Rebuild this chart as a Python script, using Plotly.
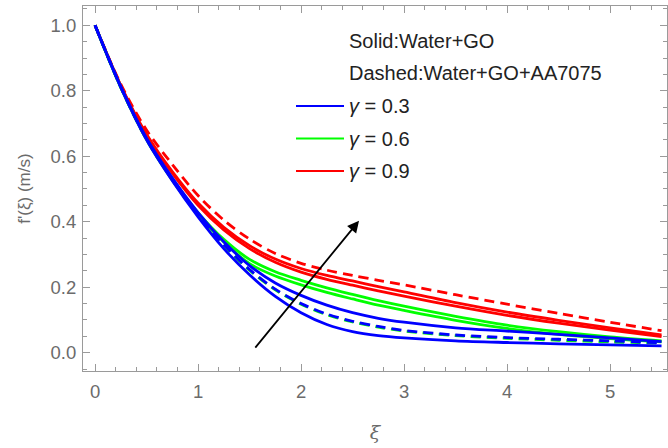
import plotly.graph_objects as go

# ---------------- data ----------------
xi = [0, 0.25, 0.5, 0.75, 1.0, 1.25, 1.5, 1.75, 2.0, 2.25, 2.5, 2.75, 3.0, 3.5, 4.0, 4.5, 5.0, 5.5]

# gamma = 0.3 (blue)
blue_solid_a = [1, 0.813, 0.655, 0.534, 0.428, 0.339, 0.266, 0.213, 0.175, 0.145, 0.122, 0.105, 0.093, 0.076, 0.066, 0.056, 0.045, 0.034]
blue_solid_b = [1, 0.810, 0.650, 0.525, 0.415, 0.318, 0.238, 0.172, 0.122, 0.086, 0.064, 0.052, 0.045, 0.036, 0.031, 0.027, 0.024, 0.021]
blue_dashed = [1, 0.812, 0.653, 0.530, 0.422, 0.330, 0.254, 0.194, 0.150, 0.118, 0.096, 0.080, 0.068, 0.054, 0.046, 0.041, 0.036, 0.030]
# gamma = 0.6 (green)
green_solid_a = [1, 0.811, 0.653, 0.531, 0.428, 0.346, 0.285, 0.247, 0.221, 0.198, 0.178, 0.159, 0.142, 0.111, 0.084, 0.064, 0.048, 0.036]
green_solid_b = [1, 0.810, 0.651, 0.527, 0.422, 0.338, 0.272, 0.234, 0.207, 0.184, 0.164, 0.145, 0.129, 0.099, 0.074, 0.056, 0.043, 0.033]
green_dashed = [1, 0.810, 0.651, 0.528, 0.420, 0.328, 0.252, 0.192, 0.148, 0.116, 0.094, 0.078, 0.066, 0.052, 0.044, 0.038, 0.033, 0.029]
# gamma = 0.9 (red)
red_solid_a = [1, 0.816, 0.667, 0.553, 0.457, 0.383, 0.327, 0.286, 0.257, 0.236, 0.219, 0.202, 0.186, 0.153, 0.124, 0.099, 0.076, 0.054]
red_solid_b = [1, 0.815, 0.664, 0.548, 0.450, 0.375, 0.318, 0.276, 0.246, 0.224, 0.206, 0.189, 0.173, 0.142, 0.114, 0.090, 0.069, 0.049]
red_dashed = [1, 0.820, 0.680, 0.575, 0.480, 0.405, 0.347, 0.303, 0.273, 0.252, 0.236, 0.221, 0.207, 0.177, 0.148, 0.120, 0.093, 0.067]

legend_labels = ["γ = 0.3", "γ = 0.6", "γ = 0.9"]
legend_colors = ["#0000FF", "#00FF00", "#FF0000"]
note_labels = ["Solid:Water+GO", "Dashed:Water+GO+AA7075"]

x_ticks = [0, 1, 2, 3, 4, 5]
y_ticks = [0.0, 0.2, 0.4, 0.6, 0.8, 1.0]
y_tick_text = ["0.0", "0.2", "0.4", "0.6", "0.8", "1.0"]

arrow_start = (1.544, 0.011)
arrow_end = (2.563, 0.403)

# ---------------- figure ----------------
W, H = 668, 448
ML, MR, MT, MB = 83, 1, 6, 77

fig = go.Figure()

DASH = "10px,6px"
LW = 2.8

series = [
    (green_dashed, "#00FF00", DASH),
    (red_dashed, "#FF0000", DASH),
    (red_solid_a, "#FF0000", "solid"),
    (red_solid_b, "#FF0000", "solid"),
    (green_solid_a, "#00FF00", "solid"),
    (green_solid_b, "#00FF00", "solid"),
    (blue_solid_a, "#0000FF", "solid"),
    (blue_dashed, "#0000FF", DASH),
    (blue_solid_b, "#0000FF", "solid"),
]
for ys, col, dash in series:
    fig.add_trace(go.Scatter(
        x=xi, y=ys, mode="lines",
        line=dict(color=col, width=LW, dash=dash, shape="spline", smoothing=0.9),
        showlegend=False, hoverinfo="skip",
    ))

axis_col = "#9a9a9a"
tick_font = dict(family="Liberation Sans, Arial, sans-serif", size=18.5, color="#6b6b6b")

fig.update_xaxes(
    range=[-0.117, 5.553], showgrid=False, zeroline=False, automargin=False,
    showline=True, linecolor=axis_col, linewidth=1, mirror="ticks",
    ticks="inside", ticklen=7, tickcolor=axis_col, tickwidth=1,
    tickvals=x_ticks, ticktext=[str(v) for v in x_ticks],
    tickfont=tick_font, ticklabelstandoff=4,
    minor=dict(ticks="inside", ticklen=4, tickcolor=axis_col, dtick=0.2, tick0=0, showgrid=False),
    title=dict(text="<i>ξ</i>", font=dict(family="DejaVu Serif, serif", size=19, color="#6b6b6b"), standoff=24),
)
fig.update_yaxes(
    range=[-0.056, 1.059], showgrid=False, zeroline=False, automargin=False,
    showline=True, linecolor=axis_col, linewidth=1, mirror="ticks",
    ticks="inside", ticklen=7, tickcolor=axis_col, tickwidth=1,
    tickvals=y_ticks, ticktext=y_tick_text,
    tickfont=tick_font, ticklabelstandoff=2,
    minor=dict(ticks="inside", ticklen=4, tickcolor=axis_col, dtick=0.05, tick0=0, showgrid=False),
    title=dict(text="f'(ξ) (m/s)", font=dict(family="Liberation Sans, Arial, sans-serif", size=17, color="#6b6b6b"), standoff=15),
)

# legend-like annotation block (paper coordinates)
def px_to_paper_x(px):
    return (px - ML) / (W - ML - MR)

def px_to_paper_y(py):
    return 1 - (py - MT) / (H - MT - MB)

leg_font = dict(family="Liberation Sans, Arial, sans-serif", size=20, color="#222222")
note_rows = [41, 73]
for txt, py in zip(note_labels, note_rows):
    fig.add_annotation(x=px_to_paper_x(347), y=px_to_paper_y(py), xref="paper", yref="paper",
                       text=txt, showarrow=False, xanchor="left", yanchor="middle", font=leg_font)

leg_rows = [106, 138.5, 171]
for txt, col, py in zip(legend_labels, legend_colors, leg_rows):
    fig.add_shape(type="line", xref="paper", yref="paper",
                  x0=px_to_paper_x(296), x1=px_to_paper_x(344),
                  y0=px_to_paper_y(py), y1=px_to_paper_y(py),
                  line=dict(color=col, width=2))
    g, rest = txt.split(" ", 1)
    fig.add_annotation(x=px_to_paper_x(347), y=px_to_paper_y(py), xref="paper", yref="paper",
                       text="<i>" + g + "</i> " + rest, showarrow=False, xanchor="left", yanchor="middle",
                       font=leg_font)

# trend arrow
fig.add_annotation(x=arrow_end[0], y=arrow_end[1], ax=arrow_start[0], ay=arrow_start[1],
                   xref="x", yref="y", axref="x", ayref="y", text="", showarrow=True,
                   arrowhead=2, arrowsize=1.3, arrowwidth=1.8, arrowcolor="#000000")

fig.update_layout(
    width=W, height=H,
    margin=dict(l=ML, r=MR, t=MT, b=MB, autoexpand=False),
    paper_bgcolor="white", plot_bgcolor="white",
    showlegend=False,
)

fig.write_html("out.html", config={"displayModeBar": False},
               post_script="document.body.style.margin='0';document.body.style.padding='0';")
